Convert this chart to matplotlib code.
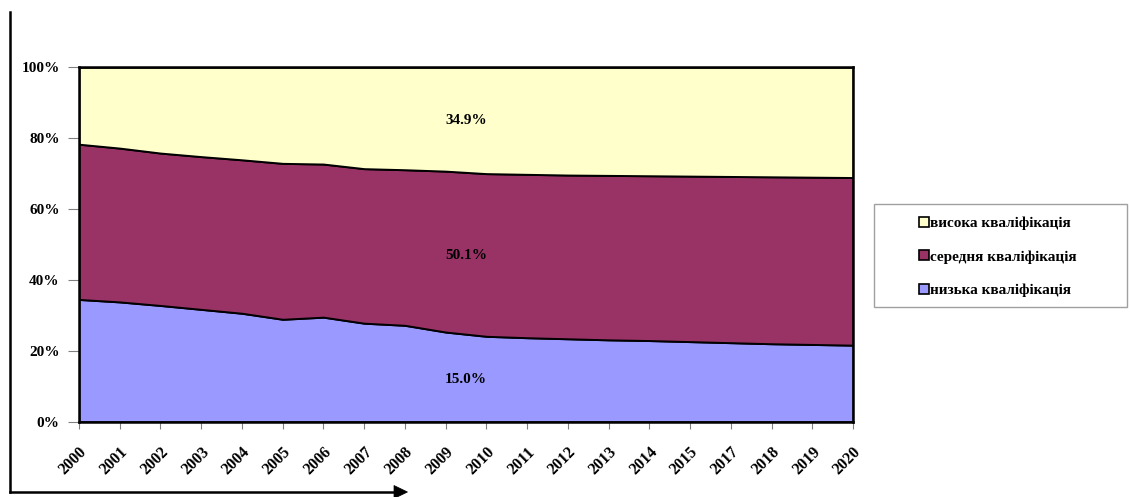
import matplotlib
matplotlib.use("Agg")
import matplotlib.pyplot as plt
from matplotlib.lines import Line2D
from matplotlib.patches import Rectangle, Polygon
import numpy as np

plt.rcParams['font.family'] = ['Liberation Serif', 'DejaVu Serif']
plt.rcParams['font.weight'] = 'bold'

# Categories (2016 is absent in the series)
years = ['2000', '2001', '2002', '2003', '2004', '2005', '2006', '2007', '2008', '2009',
         '2010', '2011', '2012', '2013', '2014', '2015', '2017', '2018', '2019', '2020']

# Shares of employment by qualification level, %
low_skill = [34.5, 33.8, 32.8, 31.7, 30.6, 28.9, 29.5, 27.8, 27.2, 25.3,
             24.1, 23.7, 23.4, 23.1, 22.9, 22.6, 22.3, 22.0, 21.8, 21.6]
mid_skill = [43.8, 43.4, 43.0, 43.1, 43.3, 44.0, 43.2, 43.6, 43.9, 45.4,
             45.9, 46.1, 46.2, 46.4, 46.5, 46.7, 46.9, 47.1, 47.2, 47.3]
high_skill = [21.7, 22.8, 24.2, 25.2, 26.1, 27.1, 27.3, 28.6, 28.9, 29.3,
              30.0, 30.2, 30.4, 30.5, 30.6, 30.7, 30.8, 30.9, 31.0, 31.1]

series_names = ['висока кваліфікація', 'середня кваліфікація', 'низька кваліфікація']
colors = {'high': '#FFFFCC', 'mid': '#993366', 'low': '#9999FF'}

# Text labels placed inside the bands
band_labels = ['15.0%', '50.1%', '34.9%']
band_label_y = [12.0, 47.0, 85.0]

W, H = 1130, 497
fig = plt.figure(figsize=(W / 100, H / 100), dpi=100)
fig.patch.set_facecolor('white')

ax = fig.add_axes([79 / W, 1 - 421.7 / H, (853 - 79) / W, (421.7 - 67.3) / H])
x = np.arange(len(years))
ax.stackplot(x, low_skill, mid_skill, high_skill,
             colors=[colors['low'], colors['mid'], colors['high']],
             edgecolor='black', linewidth=1.4)
ax.set_xlim(0, len(years) - 1)
ax.set_ylim(0, 100)

ax.set_yticks([0, 20, 40, 60, 80, 100])
ax.set_yticklabels(['0%', '20%', '40%', '60%', '80%', '100%'],
                   fontsize=11, fontweight='bold')
ax.set_xticks(x)
ax.set_xticklabels(years, rotation=45, ha='right', va='top',
                   rotation_mode='anchor', fontsize=11.5, fontweight='bold')
ax.tick_params(axis='y', length=8, width=0.8, color='#808080', pad=6, direction='out')
ax.tick_params(axis='x', length=5, width=0.8, color='#808080', pad=11, direction='out')
for s in ax.spines.values():
    s.set_linewidth(1.8)
    s.set_color('black')

for lab, yv in zip(band_labels, band_label_y):
    ax.text(9.5, yv, lab, ha='center', va='center', fontsize=11, fontweight='bold')

# Decorative frame lines and arrow, in pixel coordinates of the figure
ov = fig.add_axes([0, 0, 1, 1], facecolor='none')
ov.set_xlim(0, W)
ov.set_ylim(H, 0)
ov.axis('off')
ov.add_line(Line2D([9.7, 9.7], [12, 492], color='black', lw=1.8))
ov.add_line(Line2D([9.7, 396], [492, 492], color='black', lw=1.8))
ov.add_patch(Polygon([[394, 485.5], [407.5, 492], [394, 498.5]], closed=True,
                     facecolor='black', edgecolor='black', lw=0.5, clip_on=False))

# Legend box
ov.add_patch(Rectangle((874, 204), 253, 103, facecolor='white',
                       edgecolor='#A0A0A0', lw=1.0))
handles = [Line2D([], [], marker='s', linestyle='none', markersize=7.5,
                  markerfacecolor=colors[k], markeredgecolor='black', markeredgewidth=1.2)
           for k in ['high', 'mid', 'low']]
leg = fig.legend(handles, series_names, loc='center', frameon=False,
                 bbox_to_anchor=(998 / W, 1 - 257 / H),
                 prop={'weight': 'bold', 'size': 11, 'family': 'Liberation Serif'},
                 handlelength=0.6, handletextpad=0.1, labelspacing=1.3,
                 borderaxespad=0)

fig.savefig('out.png', dpi=100)
